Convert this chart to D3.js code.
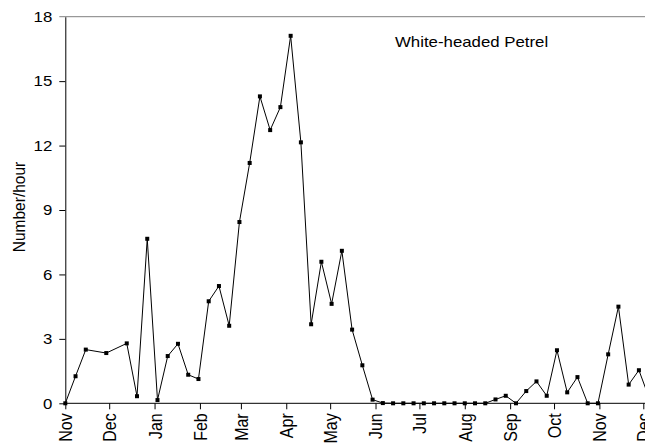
<!DOCTYPE html>
<html>
<head>
	<title>White-headed Petrel</title>
	<meta charset="utf-8">
	<script type="text/javascript" src="https://cdn.jsdelivr.net/npm/d3@7"></script>
	<style type="text/css">
	     body{ margin:0; background:#fff; }
	     svg{ display:block; font-family:"Liberation Sans", Arial, sans-serif; }
	     .tick text{ font-size:15px; fill:#000; font-family:"Liberation Sans", Arial, sans-serif; }
	     .xaxis .tick text{ font-size:16px; }
	</style>
</head>
<body>
<div id="chart"></div>
<script type="text/javascript">
    // weekly survey dates and counts (number/hour)
    var dates = ["2002-11-01","2002-11-08","2002-11-15","2002-11-29","2002-12-13","2002-12-20","2002-12-27",
                 "2003-01-03","2003-01-10","2003-01-17","2003-01-24","2003-01-31","2003-02-07","2003-02-14",
                 "2003-02-21","2003-02-28","2003-03-07","2003-03-14","2003-03-21","2003-03-28","2003-04-04",
                 "2003-04-11","2003-04-18","2003-04-25","2003-05-02","2003-05-09","2003-05-16","2003-05-23",
                 "2003-05-30","2003-06-06","2003-06-13","2003-06-20","2003-06-27","2003-07-04","2003-07-11",
                 "2003-07-18","2003-07-25","2003-08-01","2003-08-08","2003-08-15","2003-08-22","2003-08-29",
                 "2003-09-05","2003-09-12","2003-09-19","2003-09-26","2003-10-03","2003-10-10","2003-10-17",
                 "2003-10-24","2003-10-31","2003-11-07","2003-11-14","2003-11-21","2003-11-28","2003-12-05"];
    var values = [0, 1.26, 2.5, 2.34, 2.79, 0.33, 7.66,
                  0.15, 2.2, 2.77, 1.33, 1.13, 4.75, 5.46,
                  3.61, 8.44, 11.19, 14.29, 12.72, 13.79, 17.11,
                  12.15, 3.68, 6.59, 4.63, 7.1, 3.43, 1.77,
                  0.17, 0.01, 0, 0, 0, 0, 0,
                  0, 0, 0, 0, 0, 0.18, 0.35,
                  0, 0.57, 1.02, 0.35, 2.47, 0.51, 1.22,
                  0, 0, 2.28, 4.5, 0.87, 1.54, 0.25];
    var yTicks = [0, 3, 6, 9, 12, 15, 18];
    var title = "White-headed Petrel";
    var yLabel = "Number/hour";

    var parse = d3.timeParse("%Y-%m-%d");
    var data = dates.map(function(d,i){ return {date:parse(d), value:values[i]}; });

    var W = 645, H = 446;
    var stretch = 1.12; // the original text is a bit wide
    var svg = d3.select("#chart").append("svg").attr("width",W).attr("height",H);

    var x = d3.scaleTime()
        .domain([parse("2002-11-01"), parse("2003-12-01")])
        .range([65.3, 643.3]);
    var y = d3.scaleLinear().domain([0,18]).range([403.3,16.7]);

    // x axis, months
    var xAxis = svg.append("g")
        .attr("class","xaxis")
        .attr("transform","translate(0,"+y(0)+")")
        .call(d3.axisBottom(x)
            .tickValues(d3.timeMonth.range(parse("2002-11-01"), parse("2003-12-02")))
            .tickFormat(d3.timeFormat("%b"))
            .tickSize(6).tickSizeOuter(0));
    xAxis.select(".domain").attr("d","M65.3,0H700");
    xAxis.selectAll("text")
        .attr("transform","scale("+stretch+",1) rotate(-90)")
        .attr("text-anchor","end")
        .attr("x",-10).attr("y",0).attr("dy","0.36em");

    // y axis
    var yAxis = svg.append("g")
        .attr("transform","translate(65.3,0)")
        .call(d3.axisLeft(y).tickValues(yTicks).tickSize(6).tickSizeOuter(0).tickPadding(7));
    yAxis.selectAll(".tick").filter(function(d){ return d===18; }).select("line").remove();

    // top frame line
    svg.append("line")
        .attr("x1",59.3).attr("x2",W)
        .attr("y1",y(18)).attr("y2",y(18))
        .attr("stroke","#808080").attr("stroke-width",1);

    var line = d3.line()
        .x(function(d){ return x(d.date); })
        .y(function(d){ return y(d.value); });

    svg.append("path")
        .datum(data)
        .attr("fill","none")
        .attr("stroke","#000")
        .attr("stroke-width",1)
        .attr("d",line);

    svg.selectAll(".node")
        .data(data)
        .enter()
        .append("rect")
        .attr("class","node")
        .attr("x",function(d){ return x(d.date)-2; })
        .attr("y",function(d){ return y(d.value)-2; })
        .attr("width",4).attr("height",4)
        .attr("fill","#000");

    var titleText = svg.append("text")
        .attr("x",395).attr("y",47)
        .style("font-size","15px")
        .text(title);

    svg.append("text")
        .attr("transform","translate(25,207) scale("+stretch+",1) rotate(-90)")
        .attr("text-anchor","middle")
        .style("font-size","15.5px")
        .text(yLabel);

    // widen the horizontal texts
    yAxis.selectAll("text").each(function(){
        d3.select(this).attr("textLength", this.getComputedTextLength()*stretch).attr("lengthAdjust","spacingAndGlyphs");
    });
    titleText.attr("textLength", titleText.node().getComputedTextLength()*stretch).attr("lengthAdjust","spacingAndGlyphs");
</script>
</body>
</html>
